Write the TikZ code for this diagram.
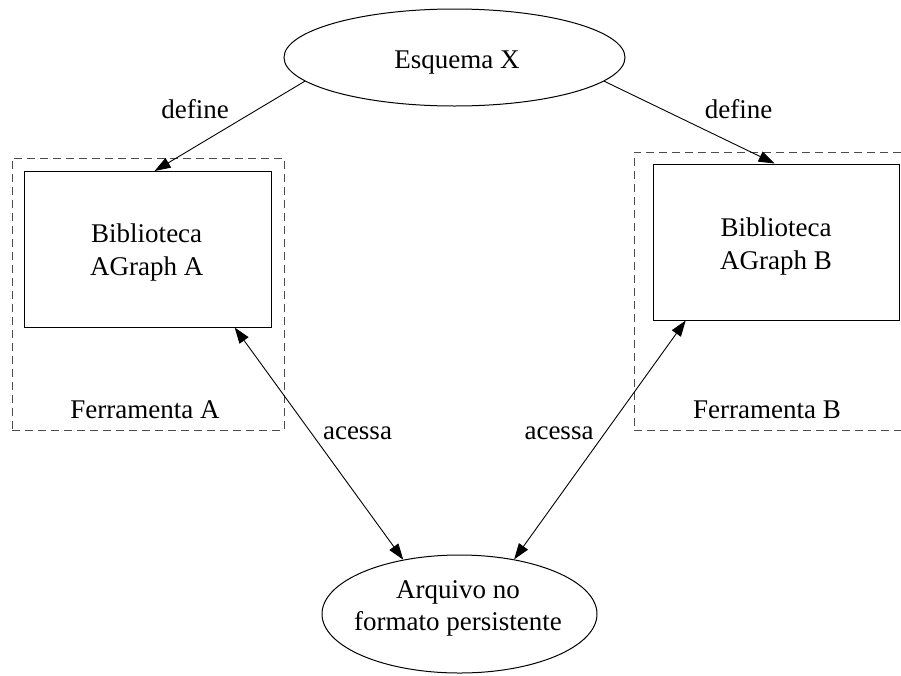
\documentclass[tikz,border=0pt]{standalone}
\usepackage{fontspec}
\setmainfont{Liberation Serif}
\usetikzlibrary{arrows.meta,shapes.geometric}
\begin{document}
\begin{tikzpicture}[x=1pt,y=-1pt,
  every node/.style={font=\fontsize{27}{32.3}\selectfont},
  box/.style={draw, line width=1pt, inner sep=0pt},
  oval/.style={draw, ellipse, line width=1pt, inner sep=0pt},
  group/.style={draw=black!70, line width=1pt, dash pattern=on 8pt off 5pt, inner sep=0pt},
  txt/.style={inner sep=0pt, align=center},
  tip/.tip={Triangle[length=16pt,width=11pt]},
  conn/.style={line width=0.9pt, -tip},
  conn2/.style={line width=0.9pt, tip-tip},
  lbl/.style={anchor=base, inner sep=0pt}]
\useasboundingbox (0,0) rectangle (901,675);
% tool groups
\node[group, minimum width=272pt, minimum height=272pt] (toolA) at (148,294) {};
\node[group, minimum width=274pt, minimum height=278pt] (toolB) at (771,291) {};
% libraries
\node[box, minimum width=246.5pt, minimum height=155.5pt] (boxA) at (147.75,249.25) {};
\node[box, minimum width=246pt, minimum height=156pt] (boxB) at (776,242) {};
\node[txt] (boxAtxt) at (146.7,252.5) {Biblioteca\\AGraph A};
\node[txt] (boxBtxt) at (776,246.5) {Biblioteca\\AGraph B};
% ellipses
\node[oval, minimum width=341pt, minimum height=97pt] (esq) at (454.5,57.5) {};
\node[oval, minimum width=275pt, minimum height=118pt] (arq) at (459.5,614) {};
\node[lbl] (esqtxt) at (457,68) {Esquema X};
\node[txt] (arqtxt) at (458,608.1) {Arquivo no\\formato persistente};
% labels
\node[lbl] (ferA) at (145,418) {Ferramenta A};
\node[lbl] (ferB) at (767,418) {Ferramenta B};
\node[lbl] (defA) at (195,118.3) {define};
\node[lbl] (defB) at (738.5,118) {define};
\node[lbl] (acA) at (357.5,439) {acessa};
\node[lbl] (acB) at (559,439) {acessa};
% connectors
\draw[conn] (esq.189) -- (boxA.85);
\draw[conn] (esq.351) -- (boxB.91);
\draw[conn2] (boxA.318) -- (arq.136);
\draw[conn2] (boxB.221.6) -- (arq.45.5);
\end{tikzpicture}
\end{document}
